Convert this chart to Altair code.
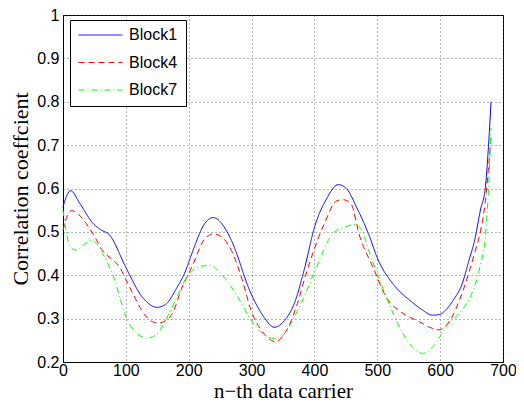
import altair as alt
import pandas as pd

# Block1 (solid blue)
b1_x = [0, 5, 12, 27, 48, 60, 74, 100, 126, 150, 165, 179, 195, 205, 226, 239, 252, 268, 299, 320, 336, 352, 368, 385, 399, 420, 438, 452, 467, 488, 500, 525, 551, 570, 588, 600, 609, 622, 635, 645, 656, 664, 672, 677, 681]
b1_y = [0.557, 0.58, 0.595, 0.565, 0.519, 0.505, 0.493, 0.418, 0.35, 0.326, 0.335, 0.366, 0.41, 0.45, 0.52, 0.533, 0.52, 0.48, 0.358, 0.303, 0.28, 0.295, 0.335, 0.42, 0.505, 0.578, 0.609, 0.598, 0.557, 0.488, 0.44, 0.38, 0.343, 0.322, 0.308, 0.31, 0.32, 0.345, 0.38, 0.43, 0.488, 0.55, 0.603, 0.7, 0.8]

# Block4 (dashed red)
b4_x = [0, 5, 14, 25, 37, 50, 63, 75, 90, 100, 111, 125, 142, 152, 160, 174, 189, 205, 226, 240, 255, 268, 285, 299, 320, 338, 350, 373, 386, 399, 416, 436, 446, 458, 472, 493, 514, 541, 567, 582, 598, 610, 619, 630, 640, 656, 664, 672, 677, 681]
b4_y = [0.503, 0.53, 0.549, 0.54, 0.519, 0.49, 0.457, 0.44, 0.419, 0.39, 0.358, 0.32, 0.293, 0.29, 0.293, 0.312, 0.37, 0.419, 0.485, 0.495, 0.485, 0.457, 0.39, 0.32, 0.265, 0.247, 0.26, 0.335, 0.4, 0.457, 0.52, 0.572, 0.574, 0.565, 0.49, 0.419, 0.35, 0.312, 0.293, 0.281, 0.274, 0.285, 0.304, 0.34, 0.38, 0.457, 0.5, 0.572, 0.65, 0.72]

# Block7 (dash-dot green)
b7_x = [0, 4, 9, 16, 22, 30, 45, 55, 63, 75, 82, 90, 100, 115, 134, 150, 168, 183, 197, 215, 236, 247, 262, 278, 299, 318, 336, 352, 368, 385, 399, 430, 450, 464, 475, 488, 504, 530, 551, 572, 593, 609, 622, 635, 646, 656, 665, 672, 677, 681]
b7_y = [0.55, 0.51, 0.475, 0.46, 0.458, 0.467, 0.48, 0.47, 0.45, 0.415, 0.39, 0.35, 0.305, 0.27, 0.255, 0.265, 0.31, 0.355, 0.396, 0.419, 0.423, 0.41, 0.385, 0.35, 0.297, 0.265, 0.254, 0.265, 0.304, 0.355, 0.404, 0.497, 0.512, 0.517, 0.505, 0.45, 0.388, 0.297, 0.243, 0.22, 0.243, 0.281, 0.3, 0.32, 0.345, 0.38, 0.43, 0.488, 0.6, 0.74]

series = ["Block1", "Block4", "Block7"]
colors = ["#0000ff", "#ff0000", "#00ff00"]
dashes = [[1, 0], [6, 4], [6, 3, 1, 3]]

rows = []
for name, xs, ys in [("Block1", b1_x, b1_y), ("Block4", b4_x, b4_y), ("Block7", b7_x, b7_y)]:
    for i, (x, y) in enumerate(zip(xs, ys)):
        rows.append({"series": name, "x": x, "y": y, "order": i})
df = pd.DataFrame(rows)

chart = alt.Chart(df).mark_line(strokeWidth=1, interpolate="monotone").encode(
    x=alt.X("x:Q", scale=alt.Scale(domain=[0, 700], nice=False),
            axis=alt.Axis(values=list(range(0, 701, 100)), title="n\u2212th data carrier")),
    y=alt.Y("y:Q", scale=alt.Scale(domain=[0.2, 1], nice=False),
            axis=alt.Axis(values=[0.2, 0.3, 0.4, 0.5, 0.6, 0.7, 0.8, 0.9, 1.0], format="~g",
                          title="Correlation coeffcient")),
    color=alt.Color("series:N", scale=alt.Scale(domain=series, range=colors),
                    legend=alt.Legend(title=None, orient="none", legendX=7, legendY=5,
                                      fillColor="white", strokeColor="black", padding=8,
                                      symbolType="stroke", symbolSize=1936, symbolStrokeWidth=1,
                                      clipHeight=14, labelFont="Liberation Sans", labelFontSize=16,
                                      labelColor="black", labelOffset=6, rowPadding=11.5)),
    strokeDash=alt.StrokeDash("series:N", scale=alt.Scale(domain=series, range=dashes), legend=None),
    order="order:Q",
).properties(
    width=440, height=347,
    padding={"left": 55, "top": 7, "right": 13, "bottom": 40},
    autosize=alt.AutoSizeParams(type="none"),
).configure_view(
    stroke="black", strokeWidth=1
).configure_axis(
    labelFont="Liberation Sans", labelFontSize=16, labelColor="black", labelFlush=False,
    titleFont="Liberation Serif", titleFontSize=22, titleFontWeight="normal", titleColor="black",
    domainColor="black", ticks=False,
    gridColor="#444", gridDash=[1, 3], gridWidth=1, gridOpacity=0.8,
).configure_axisY(titlePadding=4, labelPadding=4).configure_axisX(titlePadding=2, labelPadding=0, titleFontSize=21)

chart.save("out.html", embed_options={"renderer": "svg", "actions": False})
